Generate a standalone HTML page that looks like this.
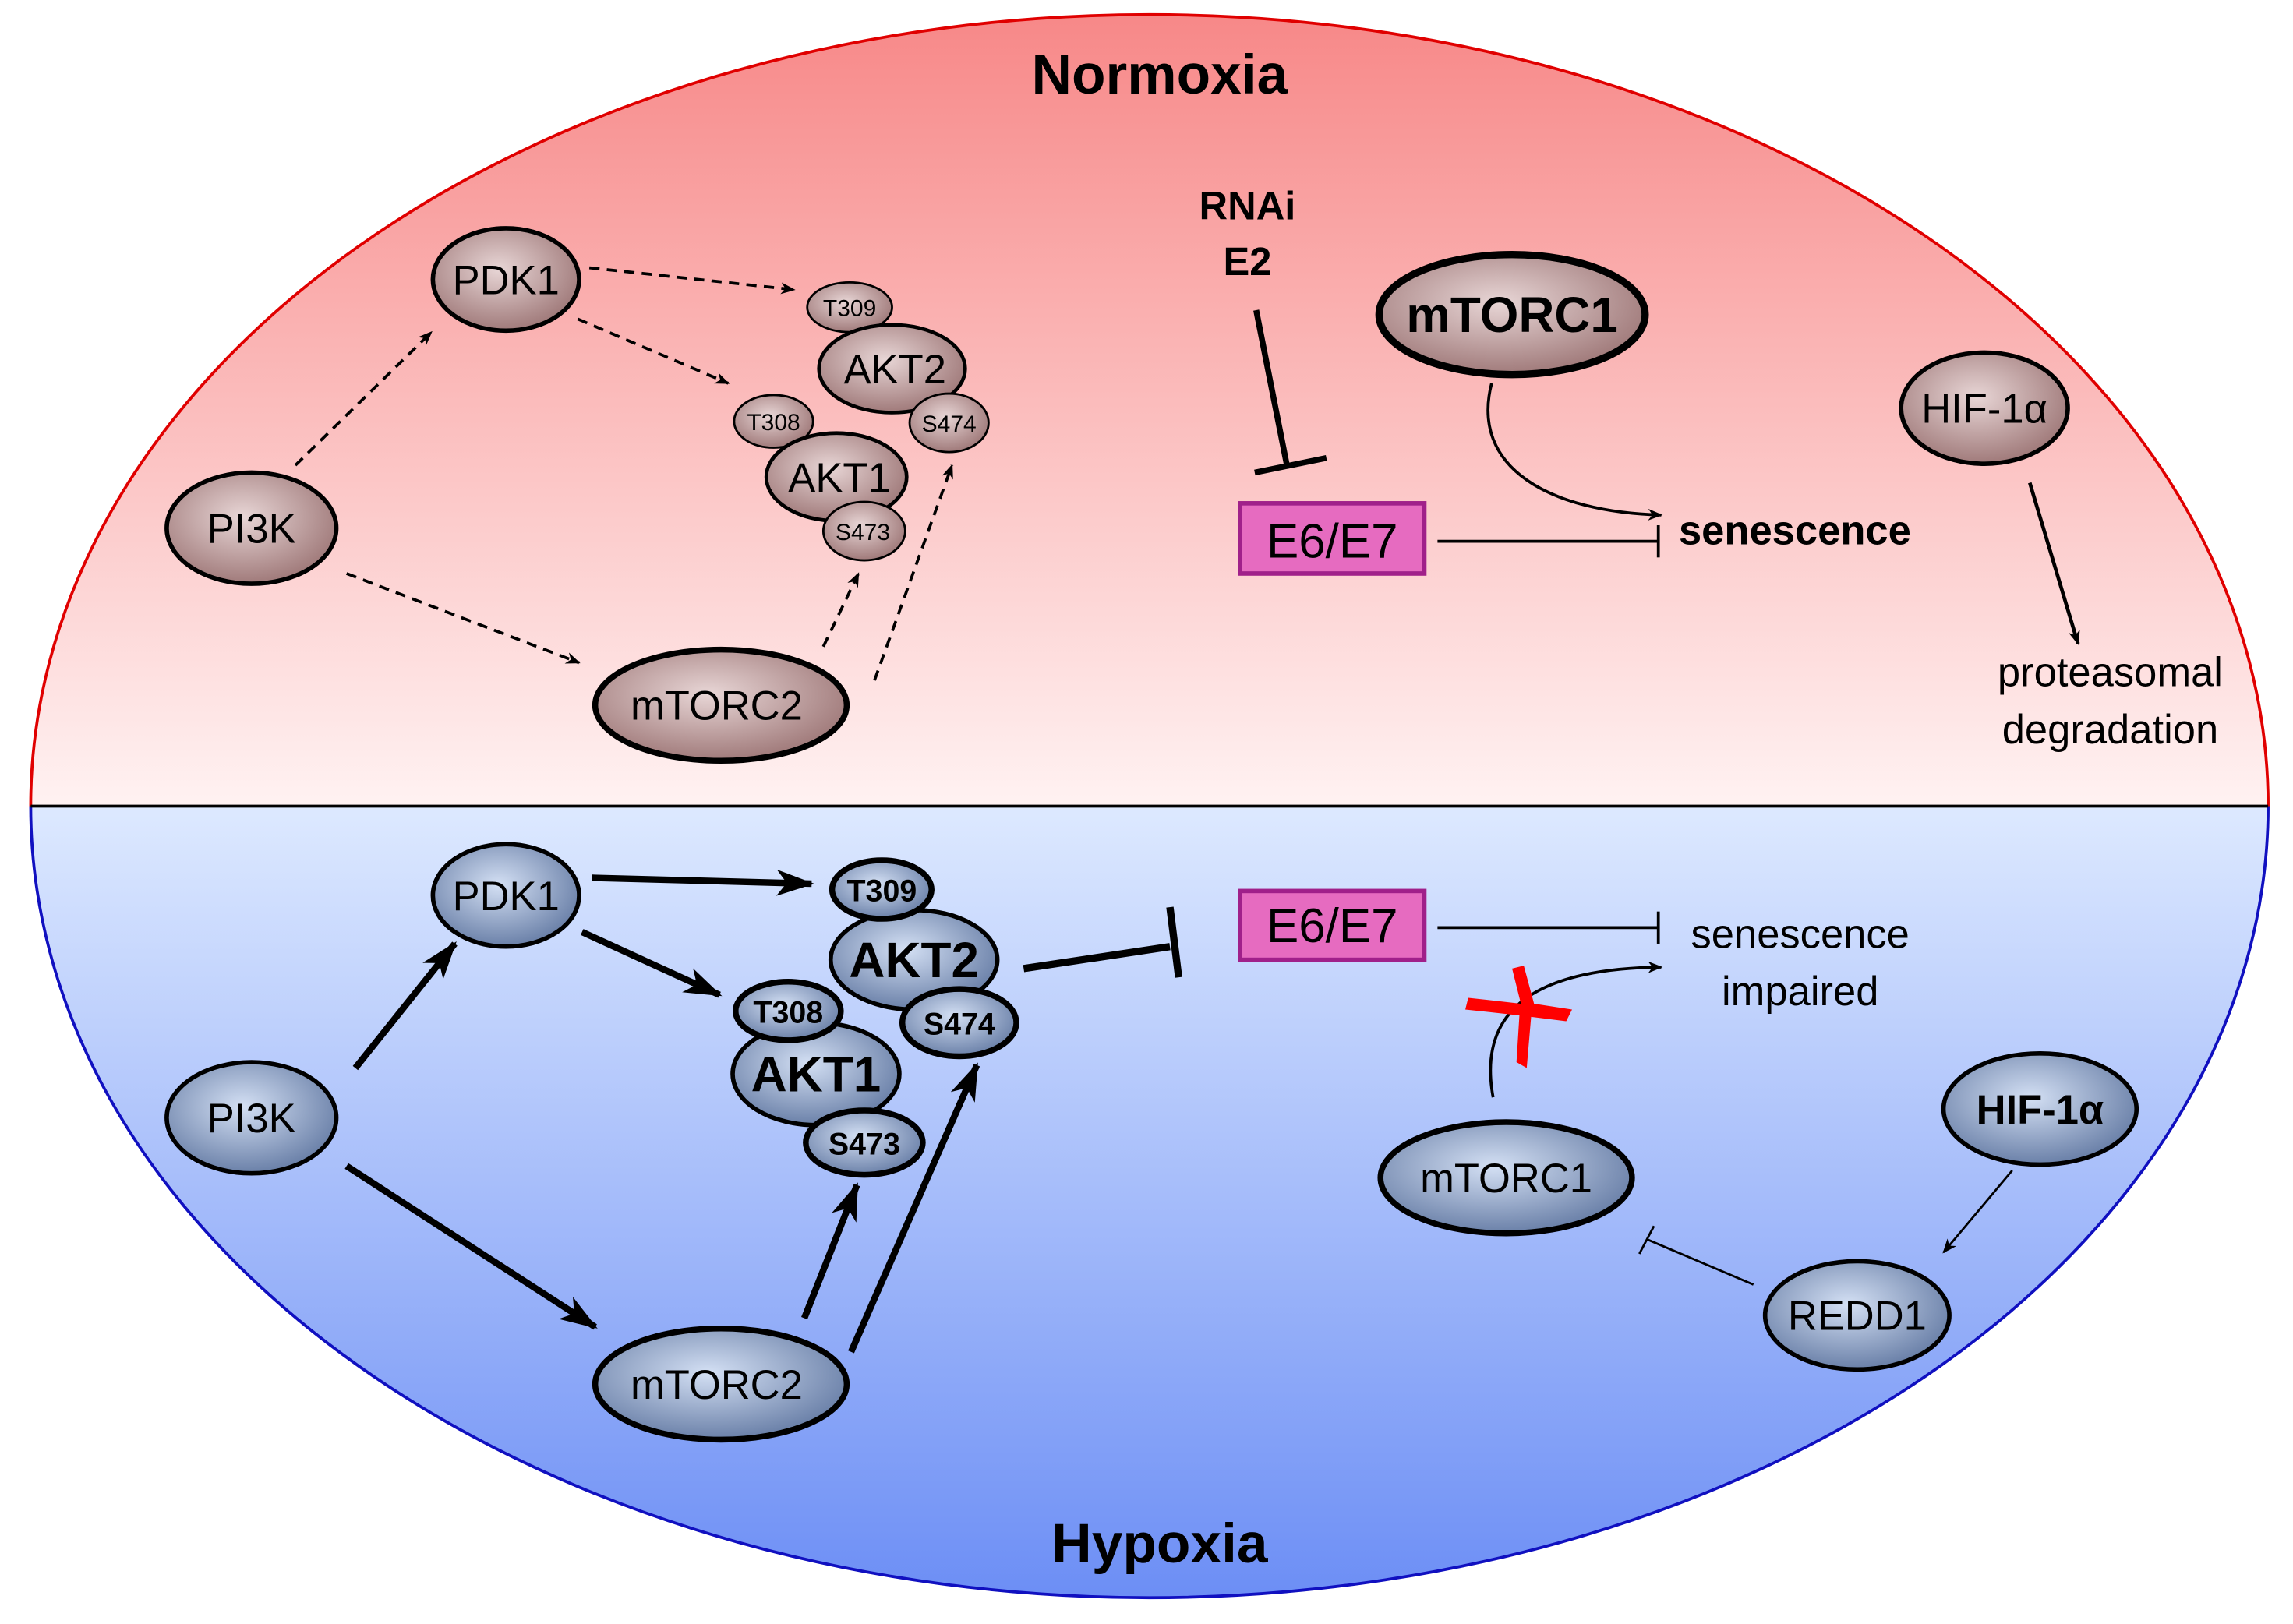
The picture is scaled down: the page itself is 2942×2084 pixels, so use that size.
<!DOCTYPE html>
<html><head><meta charset="utf-8"><style>html,body{margin:0;padding:0;background:#fff}svg{display:block}text{font-family:"Liberation Sans",sans-serif}</style></head><body>
<svg width="2942" height="2084" viewBox="0 0 1568 1110" preserveAspectRatio="none" xmlns="http://www.w3.org/2000/svg">
<defs>
<linearGradient id="gt" gradientUnits="userSpaceOnUse" x1="0" y1="10" x2="0" y2="551"><stop offset="0" stop-color="#f78888"/><stop offset="1" stop-color="#fff2f2"/></linearGradient>
<linearGradient id="gb" gradientUnits="userSpaceOnUse" x1="0" y1="551" x2="0" y2="1092"><stop offset="0" stop-color="#dde9ff"/><stop offset="1" stop-color="#6c8ef5"/></linearGradient>
<radialGradient id="nr" cx="0.45" cy="0.4" r="0.6"><stop offset="0" stop-color="#e8d6d6"/><stop offset="1" stop-color="#a07a7a"/></radialGradient>
<radialGradient id="nb" cx="0.45" cy="0.4" r="0.6"><stop offset="0" stop-color="#d4e0f4"/><stop offset="1" stop-color="#6a80a8"/></radialGradient>
<clipPath id="ct"><rect x="0" y="0" width="1568" height="551"/></clipPath>
<clipPath id="cb"><rect x="0" y="551" width="1568" height="560"/></clipPath>
<marker id="a" markerWidth="10" markerHeight="8" refX="9" refY="4" orient="auto" markerUnits="userSpaceOnUse"><path d="M0,0 L10,4 L0,8 L3,4z" fill="#000"/></marker>
<marker id="A" markerWidth="26" markerHeight="18" refX="24" refY="9" orient="auto" markerUnits="userSpaceOnUse"><path d="M0,0 L26,9 L0,18 L7,9z" fill="#000"/></marker>
</defs>
<ellipse cx="786" cy="551" rx="765" ry="541" fill="url(#gt)" clip-path="url(#ct)" stroke="#e00000" stroke-width="2"/>
<ellipse cx="786" cy="551" rx="765" ry="541" fill="url(#gb)" clip-path="url(#cb)" stroke="#1010c0" stroke-width="2"/>
<line x1="21" y1="551" x2="1551" y2="551" stroke="#000" stroke-width="2"/>
<text x="793" y="64" font-size="38" font-weight="bold" text-anchor="middle">Normoxia</text>
<text x="793" y="1068" font-size="38" font-weight="bold" text-anchor="middle">Hypoxia</text>

<g fill="none" stroke="#000" stroke-width="2" stroke-dasharray="7,5" marker-end="url(#a)">
<line x1="202" y1="318" x2="295" y2="227"/>
<line x1="237" y1="392" x2="396" y2="453"/>
<line x1="403" y1="183" x2="543" y2="198"/>
<line x1="395" y1="218" x2="498" y2="262"/>
<line x1="563" y1="442" x2="587" y2="392"/>
<line x1="598" y1="465" x2="651" y2="318"/>
</g>
<g stroke="#000" stroke-width="3">
<ellipse cx="172" cy="361" rx="58" ry="38" fill="url(#nr)"/>
<ellipse cx="346" cy="191" rx="50" ry="35" fill="url(#nr)"/>
<ellipse cx="493" cy="482" rx="86" ry="38" fill="url(#nr)" stroke-width="4"/>
<ellipse cx="1034" cy="215" rx="91" ry="41" fill="url(#nr)" stroke-width="5"/>
<ellipse cx="1357" cy="279" rx="57" ry="38" fill="url(#nr)"/>
</g>
<g stroke="#000" stroke-width="1.5">
<ellipse cx="581" cy="210" rx="29" ry="17" fill="url(#nr)"/>
<ellipse cx="610" cy="252" rx="50" ry="30" fill="url(#nr)" stroke-width="2.5"/>
<ellipse cx="529" cy="288" rx="27" ry="18" fill="url(#nr)"/>
<ellipse cx="649" cy="289" rx="27" ry="20" fill="url(#nr)"/>
<ellipse cx="572" cy="326" rx="48" ry="30" fill="url(#nr)" stroke-width="2.5"/>
<ellipse cx="591" cy="363" rx="28" ry="20" fill="url(#nr)"/>
</g>
<g font-size="28" text-anchor="middle">
<text x="172" y="371">PI3K</text><text x="346" y="201">PDK1</text><text x="490" y="492">mTORC2</text>
<text x="612" y="262">AKT2</text><text x="574" y="336">AKT1</text><text x="1357" y="289">HIF-1α</text>
</g>
<g font-size="16" text-anchor="middle"><text x="581" y="216">T309</text><text x="529" y="294">T308</text><text x="649" y="295">S474</text><text x="590" y="369">S473</text></g>
<text x="1034" y="227" font-size="34" font-weight="bold" text-anchor="middle">mTORC1</text>
<text x="853" y="150" font-size="27" font-weight="bold" text-anchor="middle">RNAi</text>
<text x="853" y="188" font-size="27" font-weight="bold" text-anchor="middle">E2</text>
<line x1="859" y1="212" x2="880" y2="318" stroke="#000" stroke-width="4"/>
<line x1="858" y1="323" x2="907" y2="313" stroke="#000" stroke-width="4"/>
<rect x="848" y="344" width="126" height="48" fill="#e66bc0" stroke="#a0208a" stroke-width="3"/>
<text x="911" y="381" font-size="33" text-anchor="middle">E6/E7</text>
<line x1="983" y1="370" x2="1134" y2="370" stroke="#000" stroke-width="2"/>
<line x1="1134" y1="359" x2="1134" y2="381" stroke="#000" stroke-width="2"/>
<path d="M1020,262 C1005,320 1060,350 1136,352" fill="none" stroke="#000" stroke-width="2" marker-end="url(#a)"/>
<text x="1148" y="372" font-size="28" font-weight="bold">senescence</text>
<line x1="1388" y1="330" x2="1421" y2="440" stroke="#000" stroke-width="2.5" marker-end="url(#a)"/>
<text x="1443" y="469" font-size="28" text-anchor="middle">proteasomal</text>
<text x="1443" y="508" font-size="28" text-anchor="middle">degradation</text>

<g fill="none" stroke="#000" stroke-width="4.5" marker-end="url(#A)">
<line x1="243" y1="730" x2="311" y2="645"/>
<line x1="237" y1="797" x2="407" y2="907"/>
<line x1="405" y1="600" x2="555" y2="604"/>
<line x1="398" y1="637" x2="492" y2="680"/>
<line x1="550" y1="901" x2="586" y2="810"/>
<line x1="582" y1="924" x2="668" y2="728"/>
</g>
<line x1="700" y1="662" x2="800" y2="647" stroke="#000" stroke-width="5"/>
<line x1="800" y1="620" x2="806" y2="668" stroke="#000" stroke-width="5"/>
<g stroke="#000" stroke-width="3">
<ellipse cx="172" cy="764" rx="58" ry="38" fill="url(#nb)"/>
<ellipse cx="346" cy="612" rx="50" ry="35" fill="url(#nb)"/>
<ellipse cx="493" cy="946" rx="86" ry="38" fill="url(#nb)" stroke-width="4"/>
<ellipse cx="1030" cy="805" rx="86" ry="38" fill="url(#nb)" stroke-width="4"/>
<ellipse cx="1395" cy="758" rx="66" ry="38" fill="url(#nb)"/>
<ellipse cx="1270" cy="899" rx="63" ry="37" fill="url(#nb)"/>
</g>
<g stroke="#000" stroke-width="4">
<ellipse cx="625" cy="656" rx="57" ry="34" fill="url(#nb)" stroke-width="3"/>
<ellipse cx="558" cy="734" rx="57" ry="35" fill="url(#nb)" stroke-width="3"/>
<ellipse cx="603" cy="608" rx="34" ry="20" fill="url(#nb)"/>
<ellipse cx="539" cy="691" rx="36" ry="20" fill="url(#nb)"/>
<ellipse cx="656" cy="699" rx="39" ry="23" fill="url(#nb)"/>
<ellipse cx="591" cy="781" rx="40" ry="22" fill="url(#nb)"/>
</g>
<g font-size="28" text-anchor="middle">
<text x="172" y="774">PI3K</text><text x="346" y="622">PDK1</text><text x="490" y="956">mTORC2</text>
<text x="1030" y="815">mTORC1</text><text x="1270" y="909">REDD1</text>
</g>
<g font-weight="bold" text-anchor="middle">
<text x="625" y="668" font-size="34">AKT2</text><text x="558" y="746" font-size="34">AKT1</text>
<text x="603" y="616" font-size="21">T309</text><text x="539" y="699" font-size="21">T308</text>
<text x="656" y="707" font-size="21">S474</text><text x="591" y="789" font-size="21">S473</text>
<text x="1395" y="768" font-size="28">HIF-1α</text>
</g>
<rect x="848" y="609" width="126" height="47" fill="#e66bc0" stroke="#a0208a" stroke-width="3"/>
<text x="911" y="644" font-size="33" text-anchor="middle">E6/E7</text>
<line x1="983" y1="634" x2="1134" y2="634" stroke="#000" stroke-width="2"/>
<line x1="1134" y1="623" x2="1134" y2="645" stroke="#000" stroke-width="2"/>
<text x="1231" y="648" font-size="28" text-anchor="middle">senescence</text>
<text x="1231" y="687" font-size="28" text-anchor="middle">impaired</text>
<path d="M1021,750 C1010,690 1050,662 1136,661" fill="none" stroke="#000" stroke-width="2" marker-end="url(#a)"/>
<path d="M1034,662 L1042,660 L1049,686 L1075,690 L1071,698 L1047,695 L1044,730 L1037,726 L1039,694 L1002,690 L1004,682 L1040,686z" fill="#ff0000"/>
<line x1="1376" y1="800" x2="1329" y2="856" stroke="#000" stroke-width="1.5" marker-end="url(#a)"/>
<line x1="1199" y1="878" x2="1126" y2="847" stroke="#000" stroke-width="1.5"/>
<line x1="1121" y1="857" x2="1131" y2="838" stroke="#000" stroke-width="1.5"/>
</svg>
</body></html>
